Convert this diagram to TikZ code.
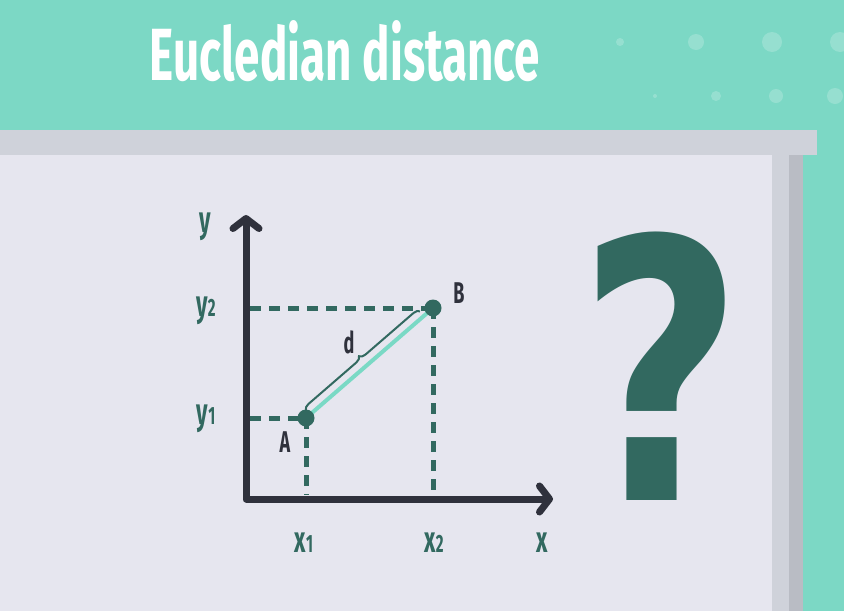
\documentclass[tikz,border=0pt]{standalone}
\usepackage{fontspec}
\usepackage{graphicx}
\setmainfont{Fira Sans}
\newfontfamily\condfont[FakeStretch=0.6]{Fira Sans}
\newfontfamily\qfont{DejaVu Sans}
\usetikzlibrary{arrows.meta,decorations.pathreplacing,calc}
\definecolor{mint}{HTML}{7CD8C5}
\definecolor{board}{HTML}{E6E6EF}
\definecolor{rim}{HTML}{CFD2DA}
\definecolor{rimdark}{HTML}{B9BCC4}
\definecolor{pine}{HTML}{326960}
\definecolor{ink}{HTML}{2F313C}
\definecolor{segment}{HTML}{7AD9C5}
\begin{document}
\begin{tikzpicture}[x=1pt,y=-1pt,>={Straight Barb[length=10pt,width=26pt,round]},
  axis/.style={ink,line width=7pt,line cap=round,line join=round},
  guide/.style={pine,line width=5pt,dash pattern=on 11pt off 8pt},
  dot/.style={circle,fill=pine,minimum size=17pt,inner sep=0pt},
  lbl/.style={text=pine,inner sep=0pt,font=\fontsize{37}{37}\condfont\bfseries},
  ptlbl/.style={text=ink,inner sep=0pt,font=\fontsize{30}{30}\condfont\bfseries}]
  \useasboundingbox (0,0) rectangle (844,611);
  \clip (0,0) rectangle (844,611);
  % 背景, 黑板
  \fill[mint] (0,0) rectangle (844,611);
  \foreach \cx/\cy/\r in {620/42/4,696/42/8,772/42/10,840/42/10,655/96/2,716/96/5,776/96/7,835/96/8}
    \fill[white,opacity=0.2] (\cx,\cy) circle (\r);
  \fill[rim] (0,130) rectangle (817,155);
  \fill[rim] (772,155) rectangle (789,611);
  \fill[rimdark] (789,155) rectangle (803,611);
  \fill[board] (0,155) rectangle (772,611);
  \node[text=white,inner sep=0pt] (title) at (345,51)
    {\resizebox{390pt}{60pt}{\bfseries\condfont Eucledian distance}};

  % 坐标轴
  \coordinate (O) at (246,499);
  \coordinate (ytop) at (246,215);
  \coordinate (xend) at (553,499);
  \draw[axis,<->] (ytop) -- (O) -- (xend);

  % 点 A, B
  \coordinate (A) at (306,418);
  \coordinate (B) at (433,308);

  % 虚线
  \coordinate (y1) at (250,418);
  \coordinate (y2) at (250,308);
  \coordinate (x1) at (306,495);
  \coordinate (x2) at (433,495);
  \draw[guide] (y2) -- (B);
  \draw[guide] (y1) -- (A);
  \draw[guide] (B) -- (x2);
  \draw[guide] (A) -- (x1);

  % 线段 AB 与括号 d
  \draw[segment,line width=4pt] (A) -- (B);
  \draw[pine,line width=2pt,decorate,decoration={brace,amplitude=6pt,raise=6pt}]
    ($(A)!5pt!(B)$) -- ($(B)!12pt!(A)$);
  \node[dot] (dA) at (A) {};
  \node[dot] (dB) at (B) {};

  \node[lbl] (ly) at (205,227) {y};
  \node[lbl] (ly2) at (206,311) {y{\fontsize{25}{25}\selectfont 2}};
  \node[lbl] (ly1) at (206,419) {y{\fontsize{25}{25}\selectfont 1}};
  \node[lbl] (lx1) at (304,543) {x{\fontsize{25}{25}\selectfont 1}};
  \node[lbl] (lx2) at (434,543) {x{\fontsize{25}{25}\selectfont 2}};
  \node[lbl] (lx) at (542,543) {x};
  \node[ptlbl] (lA) at (285,442) {A};
  \node[ptlbl] (lB) at (459,293) {B};
  \node[ptlbl] (ld) at (349,342) {d};

  % 问号
  \node[text=pine,inner sep=0pt] (qm) at (661,366)
    {\resizebox{165pt}{268pt}{\qfont\bfseries ?}};
\end{tikzpicture}
\end{document}
